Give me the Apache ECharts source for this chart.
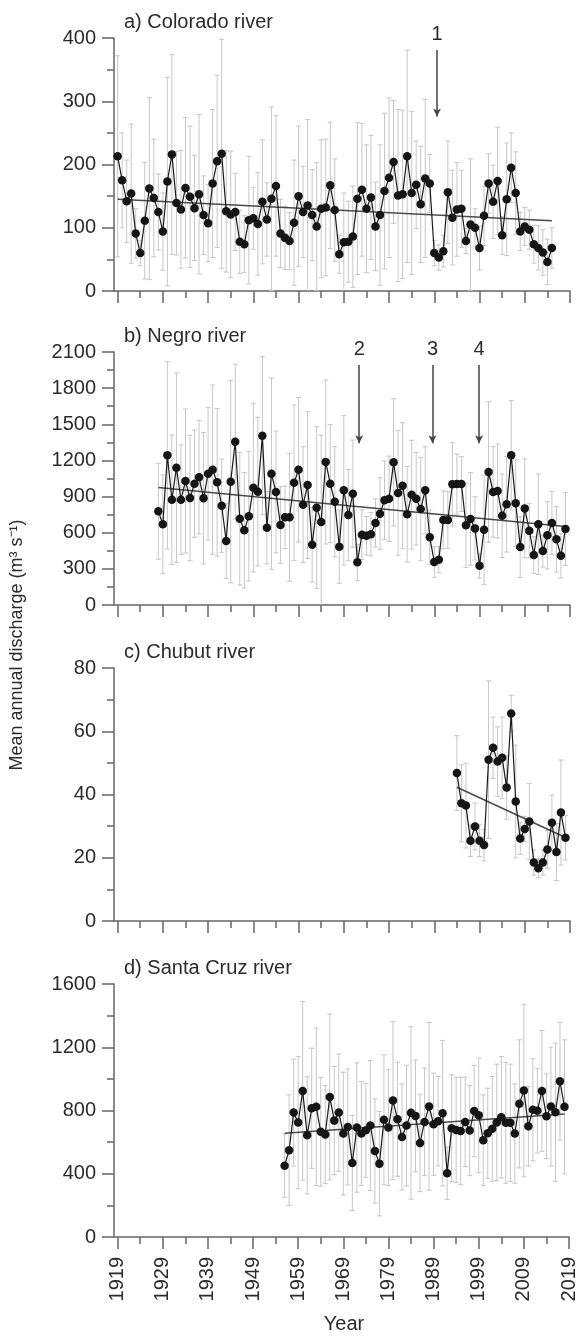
<!DOCTYPE html>
<html>
<head>
<meta charset="utf-8">
<script src="https://cdn.jsdelivr.net/npm/echarts@6/dist/echarts.min.js"></script>
<style>
  html, body { margin: 0; padding: 0; background: #fff; }
  #chart { width: 579px; height: 1336px; }
</style>
</head>
<body>
<div id="chart"></div>
<script>
// ---- data ----
var startA = 1919;
var meanA = [213,175,142,154,91,60,111,162,147,125,
  94,173,216,139,129,163,149,131,153,120,
  107,170,205,217,126,121,125,78,74,112,
  115,106,141,113,146,166,91,84,79,108,
  150,125,135,120,102,130,132,167,128,58,
  77,78,86,146,160,130,148,102,120,158,
  179,204,151,153,213,155,168,137,178,170,
  60,53,63,156,116,129,130,79,105,100,
  68,119,170,141,174,88,145,195,155,94,
  102,97,74,68,61,46,68];
var sdA = [159,75,65,110,39,20,92,144,93,60,
  61,165,158,82,93,111,112,83,126,62,
  61,117,136,181,96,100,61,50,45,101,
  49,81,98,58,145,111,54,50,45,99,
  111,72,136,72,101,109,108,100,81,30,
  78,64,80,120,105,101,98,70,111,123,
  126,97,136,133,168,129,69,92,125,46,
  20,20,25,81,75,74,61,20,104,30,
  35,47,47,58,85,30,89,55,65,30,
  30,31,30,35,36,36,32];
var trendA = [[1919, 145], [2015, 111]];

var startB = 1928;
var meanB = [778,670,1242,874,1140,874,1029,888,1007,1060,
  886,1090,1123,1018,824,531,1024,1356,716,620,
  736,974,941,1405,642,1090,938,664,728,728,
  1015,1123,833,996,500,808,689,1187,1007,857,
  484,952,747,924,354,584,575,587,681,758,
  869,882,1184,930,990,753,916,882,797,952,
  562,357,376,706,706,1002,1004,1004,661,714,
  636,326,625,1104,938,946,741,836,1242,844,
  481,802,617,415,670,448,578,681,545,409,
  631];
var sdB = [398,410,778,537,786,454,598,520,445,470,
  545,551,703,612,387,310,841,642,551,479,
  537,700,617,656,300,794,506,318,260,531,
  645,600,481,609,310,672,722,681,490,457,
  304,620,379,445,150,205,160,180,200,299,
  327,354,528,517,523,396,451,385,429,362,
  227,127,108,241,235,346,249,227,349,385,
  263,102,454,584,376,390,346,396,454,360,
  252,410,227,152,418,133,279,260,271,185,
  302];
var trendB = [[1928, 975], [2018, 651]];

var startC = 1994;
var meanC = [46.8,37.2,36.5,25.4,29.9,25.4,24.0,51.0,54.8,50.4,
  51.6,42.2,65.6,37.8,26.1,29.1,31.5,18.5,16.7,18.5,
  22.6,31.1,21.8,34.3,26.3];
var sdC = [11.8,12.2,13.4,5,7.4,5,5,24.9,9.7,11,
  12.9,10,5.8,17.8,5,4,12,4,3,4,
  6,8.7,9,16.6,7];
var trendC = [[1994, 42.3], [2018, 26.4]];

var startD = 1956;
var meanD = [451,549,787,724,924,643,814,823,665,648,
  886,736,787,654,696,468,692,654,675,705,
  544,464,741,692,863,745,633,705,785,766,
  595,728,826,713,732,783,403,688,677,671,
  728,673,797,770,612,656,684,724,757,722,
  722,654,842,926,700,804,799,924,764,825,
  789,985,823];
var sdD = [200,350,338,418,565,371,380,498,344,310,
  525,342,371,388,367,300,409,329,297,411,
  330,330,411,365,500,361,335,382,546,354,
  308,340,530,323,283,460,165,338,333,340,
  283,285,289,361,287,285,331,369,384,382,
  371,314,405,546,251,323,268,382,268,376,
  437,373,424];
var trendD = [[1956, 656], [2018, 778]];

// arrows: year, from, to, label
var arrowsA = [[1989.6, 381, 276, '1']];
var arrowsB = [[1972.4, 1992, 1342, '2'], [1988.6, 1992, 1342, '3'], [1998.9, 1992, 1342, '4']];

var titles = ['a) Colorado river', 'b) Negro river', 'c) Chubut river', 'd) Santa Cruz river'];
var yMax = [400, 2100, 80, 1600];
var yStep = [100, 300, 20, 400];
var majorYears = [1919,1929,1939,1949,1959,1969,1979,1989,1999,2009,2019];
var minorYears = [1924,1934,1944,1954,1964,1974,1984,1994,2004,2014];

// ---- layout ----
var XMIN = 1918.2, XMAX = 2019;
var tops = [38, 352, 668, 984];
var H = 253;
var axisColor = '#666';
var textColor = '#2b2b2b';
var font = 'Liberation Sans, Arial, sans-serif';

var chart = echarts.init(document.getElementById('chart'));

function plain(v) { return String(v); }

function pairs(start, mean) {
    var out = [];
    for (var i = 0; i < mean.length; i++) out.push([start + i, mean[i]]);
    return out;
}
function bars(start, mean, sd) {
    var out = [];
    for (var i = 0; i < mean.length; i++) out.push([start + i, mean[i] - sd[i], mean[i] + sd[i]]);
    return out;
}

function renderBar(params, api) {
    var x = api.value(0);
    var lo = api.coord([x, api.value(1)]);
    var hi = api.coord([x, api.value(2)]);
    var c = 2.5;
    var st = { stroke: '#c6c6c6', lineWidth: 1 };
    return {
        type: 'group',
        children: [
            { type: 'line', shape: { x1: hi[0], y1: hi[1], x2: lo[0], y2: lo[1] }, style: st },
            { type: 'line', shape: { x1: hi[0] - c, y1: hi[1], x2: hi[0] + c, y2: hi[1] }, style: st },
            { type: 'line', shape: { x1: lo[0] - c, y1: lo[1], x2: lo[0] + c, y2: lo[1] }, style: st }
        ]
    };
}

var grids = [], xAxes = [], yAxes = [], series = [], titleList = [];
var panels = [
    { start: startA, mean: meanA, sd: sdA, trend: trendA, arrows: arrowsA },
    { start: startB, mean: meanB, sd: sdB, trend: trendB, arrows: arrowsB },
    { start: startC, mean: meanC, sd: sdC, trend: trendC, arrows: [] },
    { start: startD, mean: meanD, sd: sdD, trend: trendD, arrows: [] }
];

panels.forEach(function (p, i) {
    grids.push({ left: 114, right: 9, top: tops[i], height: H, containLabel: false });
    titleList.push({
        text: titles[i], left: 119, top: tops[i] - 31,
        textStyle: { fontSize: 20, fontWeight: 'normal', color: textColor, fontFamily: font }
    });
    // main x axis (major ticks + labels)
    xAxes.push({
        type: 'value', gridIndex: i, min: XMIN, max: XMAX,
        axisLine: { show: true, onZero: false, lineStyle: { color: axisColor, width: 1.5 } },
        axisTick: { show: true, length: 12, customValues: majorYears, lineStyle: { color: axisColor, width: 1.5 } },
        axisLabel: {
            show: i === 3, customValues: majorYears, rotate: 90, margin: 20,
            fontSize: 20, color: textColor, fontFamily: font, formatter: plain
        },
        splitLine: { show: false }
    });
    // minor x ticks
    xAxes.push({
        type: 'value', gridIndex: i, min: XMIN, max: XMAX, position: 'bottom',
        axisLine: { show: false, onZero: false },
        axisTick: { show: true, length: 7, customValues: minorYears, lineStyle: { color: axisColor, width: 1.5 } },
        axisLabel: { show: false },
        splitLine: { show: false }
    });
    yAxes.push({
        type: 'value', gridIndex: i, min: 0, max: yMax[i], interval: yStep[i],
        axisLine: { show: true, lineStyle: { color: axisColor, width: 1.5 } },
        axisTick: { show: true, length: 12, lineStyle: { color: axisColor, width: 1.5 } },
        minorTick: { show: true, splitNumber: 2, length: 7, lineStyle: { color: axisColor, width: 1.5 } },
        axisLabel: { fontSize: 20, margin: 18, color: textColor, fontFamily: font, formatter: plain },
        splitLine: { show: false },
        minorSplitLine: { show: false }
    });

    series.push({
        type: 'custom', xAxisIndex: i * 2, yAxisIndex: i,
        renderItem: renderBar, clip: true, silent: true,
        encode: { x: 0, y: [1, 2] },
        data: bars(p.start, p.mean, p.sd), z: 1
    });
    var trendSeries = {
        type: 'line', xAxisIndex: i * 2, yAxisIndex: i,
        data: p.trend, showSymbol: false, symbol: 'none', clip: false, silent: true,
        lineStyle: { color: '#4a4a4a', width: 1.5 }, z: 2
    };
    if (p.arrows.length) {
        trendSeries.markLine = {
            silent: true, symbol: ['none', 'arrow'], symbolSize: [6, 8],
            lineStyle: { color: '#444', width: 1.5, type: 'solid' },
            label: { show: true, position: 'start', distance: 6, formatter: '{b}', fontSize: 20, color: textColor, fontFamily: font },
            emphasis: { disabled: true },
            data: p.arrows.map(function (a) {
                return [{ name: a[3], coord: [a[0], a[1]] }, { coord: [a[0], a[2]] }];
            })
        };
    }
    series.push(trendSeries);
    series.push({
        type: 'line', xAxisIndex: i * 2, yAxisIndex: i,
        data: pairs(p.start, p.mean),
        symbol: 'circle', symbolSize: 8.5, showAllSymbol: true, silent: true,
        itemStyle: { color: '#151515' },
        lineStyle: { color: '#1a1a1a', width: 1.2 }, z: 3
    });
});

chart.setOption({
    animation: false,
    backgroundColor: '#fff',
    textStyle: { fontFamily: font },
    title: titleList,
    grid: grids,
    xAxis: xAxes,
    yAxis: yAxes,
    series: series,
    graphic: [
        {
            type: 'text', x: 17, y: 645, rotation: Math.PI / 2,
            style: {
                text: 'Mean annual discharge (m³ s⁻¹)', fontSize: 18, fill: textColor,
                fontFamily: font, textAlign: 'center', textVerticalAlign: 'middle'
            }
        },
        {
            type: 'text', x: 344, y: 1324,
            style: {
                text: 'Year', fontSize: 20, fill: textColor, fontFamily: font,
                textAlign: 'center', textVerticalAlign: 'middle'
            }
        }
    ]
});
</script>
</body>
</html>
